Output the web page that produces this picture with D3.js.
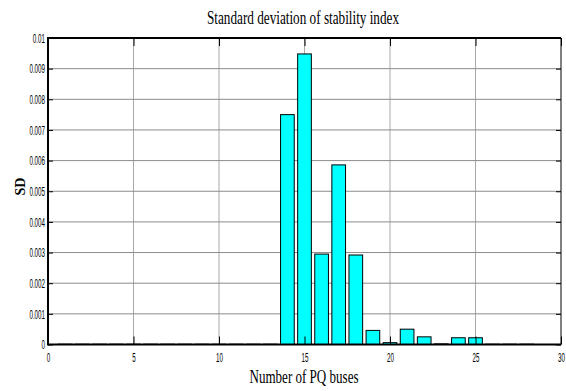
<!DOCTYPE html>
<html>
<head>
<meta charset="utf-8">
<script src="https://cdn.jsdelivr.net/npm/d3@7"></script>
<style>
  html, body { margin: 0; padding: 0; background: #fff; }
  svg { display: block; }
</style>
</head>
<body>
<svg id="chart" width="566" height="391"></svg>
<script>
// Bus numbers (PQ buses) and the standard deviation of the stability index for each
const buses = [1, 2, 3, 4, 5, 6, 7, 8, 9, 10, 11, 12, 13, 14, 15, 16, 17, 18, 19, 20, 21, 22, 23, 24, 25, 26, 27, 28];
const sdValues = [0.00001, 0.00001, 0.00001, 0.00001, 0.00001, 0.00001, 0.00001, 0.00001, 0.00001, 0.00001, 0.00001, 0.00001, 0.00001,
  0.0075, 0.00948, 0.00295, 0.00586, 0.00292, 0.00046, 0.00006, 0.0005, 0.00025, 0.00002, 0.00022, 0.00022, 0.00001, 0.00001, 0.00001];
const xTicks = [0, 5, 10, 15, 20, 25, 30];
const yTicks = [0, 0.001, 0.002, 0.003, 0.004, 0.005, 0.006, 0.007, 0.008, 0.009, 0.01];
const yTickLabels = ["0", "0.001", "0.002", "0.003", "0.004", "0.005", "0.006", "0.007", "0.008", "0.009", "0.01"];
const titleText = "Standard deviation of stability index";
const xLabelText = "Number of PQ buses";
const yLabelText = "SD";

const svg = d3.select("#chart");
const plot = { left: 48, right: 561, top: 38, bottom: 344.5 };
const x = d3.scaleLinear().domain([0, 30]).range([plot.left, plot.right]);
const y = d3.scaleLinear().domain([0, 0.01]).range([plot.bottom, plot.top]);
const barWidth = 0.8;
const squeeze = 0.52; // horizontal compression of the tick label glyphs

// grid lines
const grid = svg.append("g");
grid.selectAll("line.gx").data(xTicks.slice(1, -1)).join("line")
  .attr("x1", d => x(d)).attr("x2", d => x(d))
  .attr("y1", plot.top).attr("y2", plot.bottom)
  .attr("stroke", "#a8a8a8").attr("stroke-width", 1);
grid.selectAll("line.gy").data(yTicks.slice(1, -1)).join("line")
  .attr("x1", plot.left).attr("x2", plot.right)
  .attr("y1", d => y(d)).attr("y2", d => y(d))
  .attr("stroke", "#8c8c8c").attr("stroke-width", 1);

// bars
svg.append("g").selectAll("rect").data(buses).join("rect")
  .attr("x", (d) => x(d - barWidth / 2))
  .attr("width", (d) => x(barWidth) - x(0))
  .attr("y", (d, i) => y(sdValues[i]))
  .attr("height", (d, i) => y(0) - y(sdValues[i]))
  .attr("fill", "#00ffff")
  .attr("stroke", "#000")
  .attr("stroke-width", 1);

// axes with inward ticks
const xAxisBottom = d3.axisBottom(x).tickValues(xTicks).tickSize(-8).tickPadding(0).tickFormat(d3.format("d"));
const xAxisTop = d3.axisTop(x).tickValues(xTicks).tickSize(-8).tickFormat("");
const yAxisLeft = d3.axisLeft(y).tickValues(yTicks).tickSize(-5).tickPadding(0).tickFormat((d, i) => yTickLabels[i]);
const yAxisRight = d3.axisRight(y).tickValues(yTicks).tickSize(-5).tickFormat("");

function styleAxis(g) {
  g.select(".domain").remove();
  g.selectAll(".tick line").attr("stroke", "#000");
  g.selectAll("text")
    .attr("fill", "#000")
    .style("font-family", "'Liberation Sans', Arial, sans-serif")
    .style("font-size", "12px");
}

const gxb = svg.append("g").attr("transform", `translate(0,${plot.bottom})`).call(xAxisBottom).call(styleAxis);
gxb.selectAll("text").attr("y", 0).attr("dy", "1.45em")
  .attr("transform", `scale(${squeeze},1)`);

svg.append("g").attr("transform", `translate(0,${plot.top})`).call(xAxisTop).call(styleAxis);

const gyl = svg.append("g").attr("transform", `translate(${plot.left},0)`).call(yAxisLeft).call(styleAxis);
gyl.selectAll("text").attr("x", -3 / squeeze).attr("dy", "0.36em")
  .attr("transform", `scale(${squeeze},1)`);

svg.append("g").attr("transform", `translate(${plot.right},0)`).call(yAxisRight).call(styleAxis);

// frame
svg.append("line").attr("x1", plot.left).attr("x2", plot.right).attr("y1", plot.top).attr("y2", plot.top)
  .attr("stroke", "#000").attr("stroke-width", 2);
svg.append("line").attr("x1", plot.left).attr("x2", plot.right).attr("y1", plot.bottom).attr("y2", plot.bottom)
  .attr("stroke", "#000").attr("stroke-width", 2);
svg.append("line").attr("x1", plot.left).attr("x2", plot.left).attr("y1", plot.top - 1).attr("y2", plot.bottom + 1)
  .attr("stroke", "#000").attr("stroke-width", 2);
svg.append("line").attr("x1", plot.right).attr("x2", plot.right).attr("y1", plot.top).attr("y2", plot.bottom)
  .attr("stroke", "#000").attr("stroke-width", 1);

// title and axis labels
svg.append("text")
  .attr("x", 303).attr("y", 24)
  .attr("text-anchor", "middle")
  .attr("textLength", 192).attr("lengthAdjust", "spacingAndGlyphs")
  .style("font-family", "'Liberation Serif', 'Times New Roman', serif")
  .style("font-size", "18px")
  .text(titleText);

svg.append("text")
  .attr("x", 304).attr("y", 382.5)
  .attr("text-anchor", "middle")
  .attr("textLength", 109).attr("lengthAdjust", "spacingAndGlyphs")
  .style("font-family", "'Liberation Serif', 'Times New Roman', serif")
  .style("font-size", "18px")
  .text(xLabelText);

svg.append("text")
  .attr("transform", "translate(24.5,186.5) rotate(-90)")
  .attr("text-anchor", "middle")
  .style("font-family", "'Liberation Serif', 'Times New Roman', serif")
  .style("font-size", "14px")
  .style("font-weight", "bold")
  .text(yLabelText);
</script>
</body>
</html>
